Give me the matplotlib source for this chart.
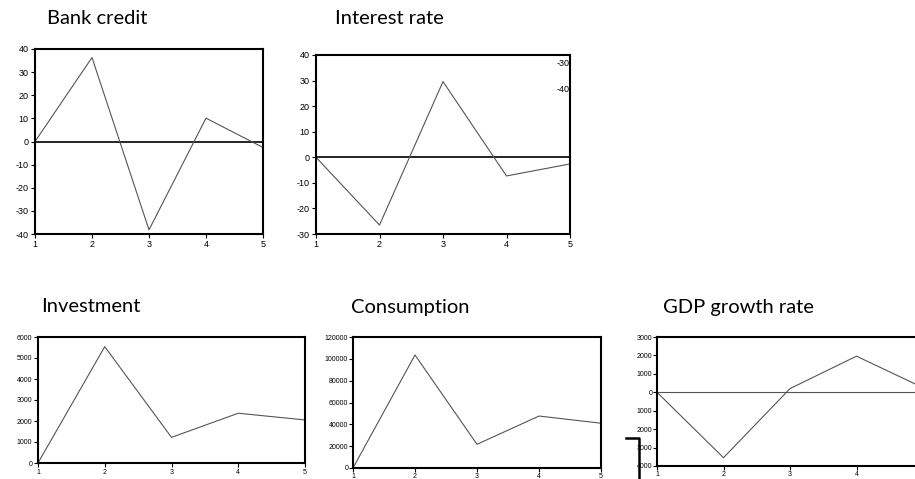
import numpy as np
import matplotlib.pyplot as plt
from matplotlib.lines import Line2D

plt.rcParams['axes.unicode_minus'] = False

W, H = 915, 479

periods = [1, 2, 3, 4, 5]

bank_credit = [0, 36.3, -38.2, 10.1, -2.6]
interest_rate = [0, -26.5, 29.6, -7.3, -2.6]
investment = [0, 5540, 1220, 2370, 2050]
consumption = [0, 103500, 21700, 47600, 41000]
gdp_growth = [0, -3550, 200, 1960, 250]

bank_ticks = [-40, -30, -20, -10, 0, 10, 20, 30, 40]
rate_ticks = [-30, -20, -10, 0, 10, 20, 30, 40]
inv_ticks = [0, 1000, 2000, 3000, 4000, 5000, 6000]
cons_ticks = [0, 20000, 40000, 60000, 80000, 100000, 120000]
gdp_ticks = [-4000, -3000, -2000, -1000, 0, 1000, 2000, 3000]
gdp_labels = ['4000', '3000', '2000', '1000', '0', '1000', '2000', '3000']

title_font = 'Lato'
tick_font = 'Liberation Sans'

fig = plt.figure(figsize=(W / 100, H / 100), dpi=100)


def box(l, r, t, b):
    # pixel box -> figure fraction rect
    return [l / W, 1 - b / H, (r - l) / W, (b - t) / H]


def panel(rect, y, ticks, ylim, labels=None, zero='black', fs=6.5, pad=1.5):
    ax = fig.add_axes(rect)
    if zero == 'black':
        ax.axhline(0, color='black', lw=1.2)
    elif zero:
        ax.axhline(0, color=zero, lw=0.8)
    ax.plot(periods, y, color='#555555', lw=0.8)
    ax.set_xlim(1, 5)
    ax.set_ylim(*ylim)
    ax.set_xticks(periods)
    ax.set_yticks(ticks)
    if labels is not None:
        ax.set_yticklabels(labels)
    for s in ax.spines.values():
        s.set_linewidth(1.5)
        s.set_color('black')
    ax.tick_params(direction='out', length=3, width=0.8, pad=pad,
                   labelsize=fs, top=False, right=False)
    for lab in ax.get_xticklabels() + ax.get_yticklabels():
        lab.set_fontfamily(tick_font)
    return ax


ax1 = panel(box(35, 263, 49, 234), bank_credit, bank_ticks, (-40, 40))
ax2 = panel(box(316, 570, 55, 234), interest_rate, rate_ticks, (-30, 40))
ax3 = panel(box(38, 305, 337, 463), investment, inv_ticks, (0, 6000),
            zero=None, fs=5, pad=1)
ax4 = panel(box(353, 601, 337, 468), consumption, cons_ticks, (0, 120000),
            zero=None, fs=5, pad=0.5)
ax5 = panel(box(657, 923, 337, 466), gdp_growth, gdp_ticks, (-4000, 3000),
            labels=gdp_labels, zero='#555555', fs=5, pad=0.5)

# stray labels sitting inside the interest rate frame
ax2.text(1.0, 0.955, '-30', transform=ax2.transAxes, ha='right', va='center',
         fontsize=6.5, fontfamily=tick_font)
ax2.text(1.0, 0.81, '-40', transform=ax2.transAxes, ha='right', va='center',
         fontsize=6.5, fontfamily=tick_font)

# black corner bracket left of the GDP panel
fig.add_artist(Line2D([626 / W, 639 / W, 639 / W],
                      [1 - 438 / H, 1 - 438 / H, 0],
                      color='black', lw=1.8, transform=fig.transFigure))

titles = [('Bank credit', 47, 18), ('Interest rate', 335, 18),
          ('Investment', 41, 307), ('Consumption', 351, 307),
          ('GDP growth rate', 663, 307)]
for txt, x, y in titles:
    fig.text(x / W, 1 - y / H, txt, ha='left', va='center',
             fontsize=14.5, fontfamily=title_font)

fig.savefig('out.png', dpi=100)
